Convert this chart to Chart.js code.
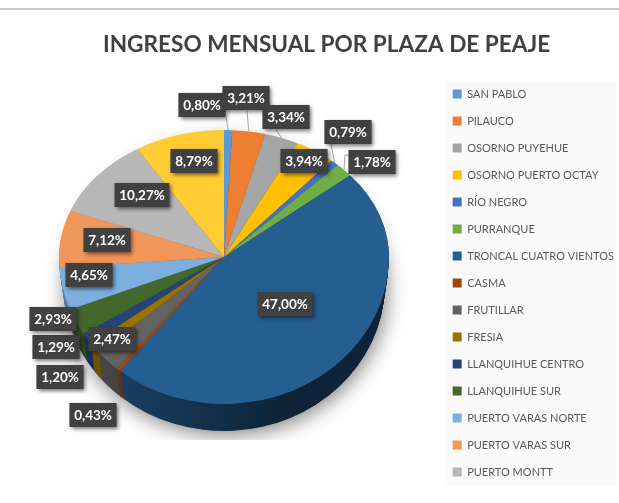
<!DOCTYPE html>
<html><head><meta charset="utf-8">
<style>html,body{margin:0;padding:0;background:#fff}canvas{display:block;filter:blur(0.45px)}</style>
<script src="https://cdn.jsdelivr.net/npm/chart.js@4"></script>
</head><body><canvas id="c" width="619" height="503"></canvas>
<script>
const chartTitle = 'INGRESO MENSUAL POR PLAZA DE PEAJE';
const categories = ['SAN PABLO','PILAUCO','OSORNO PUYEHUE','OSORNO PUERTO OCTAY','RÍO NEGRO','PURRANQUE','TRONCAL CUATRO VIENTOS','CASMA','FRUTILLAR','FRESIA','LLANQUIHUE CENTRO','LLANQUIHUE SUR','PUERTO VARAS NORTE','PUERTO VARAS SUR','PUERTO MONTT'];
const shares = [0.80,3.21,3.34,3.94,0.79,1.78,47.00,0.43,2.47,1.20,1.29,2.93,4.65,7.12,10.27,8.79];
const sliceColors = ['#5B9BD5','#ED7D31','#A5A5A5','#FFC000','#4472C4','#70AD47','#255E91','#9E480E','#636363','#997300','#264478','#43682B','#7CAFDD','#F1975A','#B7B7B7','#FFCD33'];

// layout of the fake-3D pie and its callouts (not data)
const pie = {cx:224, cy:257, r:165, top:127/165, bottom:147/165, depth:27, shrink:0.975, shadowEnd:440};
const labelCentres = [[202,105],[246,98],[286,117],[304,161],[348,132],[372,162],[285,304],[93,415],[112,339],[60,377],[56,347],[53,319],[89,275],[107,240],[142,195],[194,161]];
const leaders = {0:[[226,117]],1:[[247,111]],2:[[276,130]],4:[[331,144]],5:[[345,155],[351,155]]};

function shade(hex,f){const n=parseInt(hex.slice(1),16);return `rgb(${(n>>16)*f|0},${((n>>8)&255)*f|0},${(n&255)*f|0})`;}
function paint(ctx,arc,fill){const p=Object.create(arc);p.options=Object.assign({},arc.options,{backgroundColor:fill,borderWidth:0});arc.draw.call(p,ctx);}
function face(ctx,arcs,fills,dy,sx){
  const a0=arcs[0];
  [[pie.top,-2000,pie.cy+dy],[pie.bottom,pie.cy+dy,pie.cy+dy+2000]].forEach(([sy,y0,y1])=>{
    ctx.save();ctx.beginPath();ctx.rect(0,y0,619,y1-y0);ctx.clip();
    ctx.translate(pie.cx,pie.cy+dy);ctx.scale(sx,sy);ctx.translate(-a0.x,-a0.y);
    arcs.forEach((a,i)=>paint(ctx,a,fills[i]));
    ctx.restore();
  });
}
function dotPattern(ctx){
  const t=document.createElement('canvas');t.width=t.height=4;const g=t.getContext('2d');
  g.fillStyle='#3f3f3f';g.fillRect(0,0,4,4);g.fillStyle='#4c4c4c';g.fillRect(0,0,1,1);g.fillRect(2,2,1,1);
  return ctx.createPattern(t,'repeat');
}
const pie3d={id:'pie3d',
  beforeDraw(chart){const c=chart.ctx;c.save();
    c.fillStyle='#fff';c.fillRect(0,0,619,503);
    c.fillStyle='#c9c9c9';c.fillRect(0,8,619,2);
    c.fillStyle='#fafafa';c.fillRect(446,81,171,405);
    c.restore();},
  beforeDatasetDraw(chart){
    const c=chart.ctx,arcs=chart.getDatasetMeta(0).data;
    // soft shadow, cut off sharply below the pie
    c.save();c.beginPath();c.rect(0,0,619,pie.shadowEnd);c.clip();
    c.shadowColor='rgba(0,0,0,0.5)';c.shadowBlur=20;c.shadowOffsetX=2;c.shadowOffsetY=4;
    c.translate(pie.cx,pie.cy+pie.depth);c.scale(pie.shrink,pie.bottom);c.translate(-arcs[0].x,-arcs[0].y);
    arcs.forEach(a=>paint(c,a,'#888'));
    c.restore();
    // extruded side
    const sideFills=arcs.map((a,i)=>{
      const g=c.createLinearGradient(arcs[0].x-130,0,arcs[0].x+60,0),col=sliceColors[i];
      g.addColorStop(0,shade(col,0.72));g.addColorStop(1,shade(col,0.38));return g;});
    for(let d=pie.depth;d>=1;d--){face(c,arcs,sideFills,d,1-(1-pie.shrink)*d/pie.depth);}
    // top face
    face(c,arcs,sliceColors,0,1);
    return false;
  },
  afterDatasetsDraw(chart){
    const c=chart.ctx,arcs=chart.getDatasetMeta(0).data,pat=dotPattern(c);
    // leader lines from each slice's outer edge
    c.save();c.strokeStyle='#a6a6a6';c.lineWidth=1;
    Object.keys(leaders).forEach(k=>{const a=arcs[k],m=(a.startAngle+a.endAngle)/2;
      const x=pie.cx+pie.r*Math.cos(m),y=pie.cy+pie.r*Math.sin(m)*(Math.sin(m)<0?pie.top:pie.bottom);
      c.beginPath();c.moveTo(x,y);leaders[k].forEach(p=>c.lineTo(p[0],p[1]));c.stroke();});
    c.restore();
    // value callouts
    c.save();c.font='bold 13.5px Lato';c.textAlign='center';c.textBaseline='middle';
    shares.forEach((v,i)=>{
      const txt=v.toFixed(2).replace('.',',')+'%',w=c.measureText(txt).width+9,h=24,[x,y]=labelCentres[i];
      c.save();c.shadowColor='rgba(0,0,0,0.55)';c.shadowBlur=4;c.shadowOffsetX=2;c.shadowOffsetY=2;
      c.fillStyle='#404040';c.fillRect(x-w/2,y-h/2,w,h);c.restore();
      c.fillStyle=pat;c.fillRect(x-w/2,y-h/2,w,h);
      c.fillStyle='#ffffff';c.fillText(txt,x,y+0.5);
    });
    c.restore();
  }
};
new Chart(document.getElementById('c'),{
  type:'pie',
  plugins:[pie3d],
  data:{labels:categories,datasets:[{data:shares,backgroundColor:sliceColors,borderWidth:0,radius:pie.r}]},
  options:{
    responsive:false,animation:false,events:[],
    layout:{padding:{left:103,right:-5,top:0,bottom:0}},
    plugins:{
      tooltip:{enabled:false},
      title:{display:true,text:chartTitle,align:'start',color:'#404040',font:{family:'Lato',size:22.6,weight:'bold'},padding:{top:31.4,bottom:14}},
      legend:{display:true,fullSize:false,position:'right',align:'start',
        labels:{boxWidth:9,boxHeight:9,padding:16,color:'#595959',font:{family:'Lato',size:11}}}
    }
  }
});
</script></body></html>
